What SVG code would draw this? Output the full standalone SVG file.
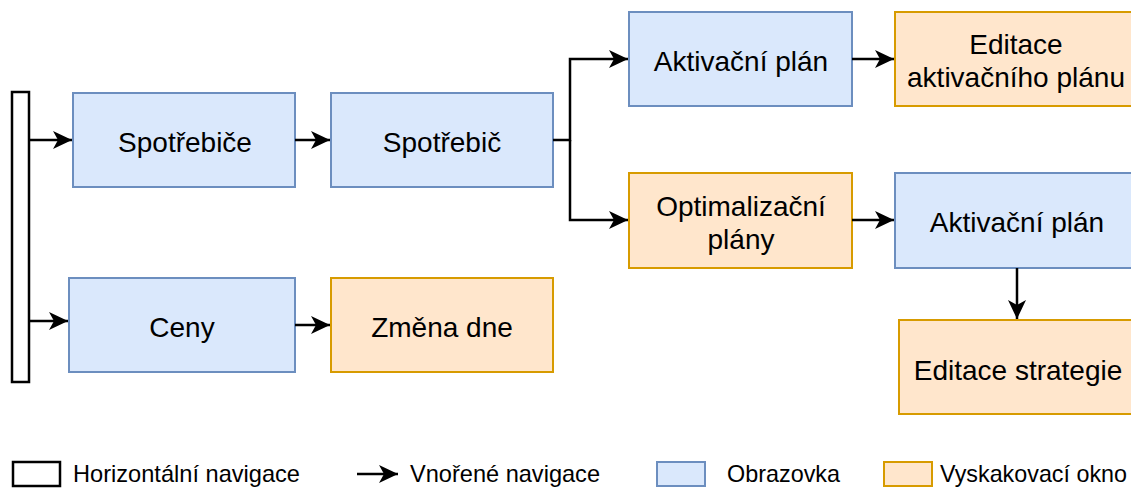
<svg xmlns="http://www.w3.org/2000/svg" width="1131" height="488" viewBox="0 0 1131 488">
<style>
.s{fill:#dae8fc;stroke:#6c8ebf;stroke-width:2}
.p{fill:#ffe6cc;stroke:#d79b00;stroke-width:2}
.h{fill:#ffffff;stroke:#000000;stroke-width:2.5}
text{font-family:"Liberation Sans",Arial,sans-serif;font-size:28px;fill:#000;text-anchor:middle}
.lg{font-size:23.4px;text-anchor:start}
.c{fill:none;stroke:#000;stroke-width:2.5}
</style>
<defs>
<marker id="a" markerWidth="20" markerHeight="20" refX="19" refY="10" orient="auto" markerUnits="userSpaceOnUse">
<path d="M0,1 L19,10 L0,19 L5,10 Z" fill="#000"/>
</marker>
</defs>
<g id="nav"><rect class="h" x="12" y="92" width="17" height="290"/></g>
<g id="spotrebice"><rect class="s" x="73" y="93" width="222" height="94"/><text x="185" y="152">Spotřebiče</text></g>
<g id="spotrebic"><rect class="s" x="331" y="93" width="222" height="94"/><text x="442" y="152">Spotřebič</text></g>
<g id="aktivacni1"><rect class="s" x="629" y="12" width="223" height="94"/><text x="741" y="71">Aktivační plán</text></g>
<g id="editace1"><rect class="p" x="895" y="12" width="242" height="94"/><text x="1016" y="54">Editace</text><text x="1016" y="87">aktivačního plánu</text></g>
<g id="optimalizacni"><rect class="p" x="629" y="173" width="223" height="95"/><text x="741" y="216">Optimalizační</text><text x="741" y="249">plány</text></g>
<g id="aktivacni2"><rect class="s" x="895" y="173" width="242" height="95"/><text x="1017" y="232">Aktivační plán</text></g>
<g id="strategie"><rect class="p" x="899" y="320" width="238" height="94"/><text x="1018" y="380">Editace strategie</text></g>
<g id="ceny"><rect class="s" x="69" y="278" width="226" height="94"/><text x="182" y="337">Ceny</text></g>
<g id="zmena"><rect class="p" x="331" y="278" width="222" height="94"/><text x="442" y="337">Změna dne</text></g>
<g id="connectors">
<path class="c" d="M29,140 L72,140" marker-end="url(#a)"/>
<path class="c" d="M295,140 L330,140" marker-end="url(#a)"/>
<path class="c" d="M553,140 L570,140 L570,59 L628,59" marker-end="url(#a)"/>
<path class="c" d="M570,140 L570,220 L628,220" marker-end="url(#a)"/>
<path class="c" d="M852,59 L894,59" marker-end="url(#a)"/>
<path class="c" d="M852,220 L894,220" marker-end="url(#a)"/>
<path class="c" d="M1017,268 L1017,319" marker-end="url(#a)"/>
<path class="c" d="M29,321 L68,321" marker-end="url(#a)"/>
<path class="c" d="M295,325 L330,325" marker-end="url(#a)"/>
</g>
<g id="legend">
<rect class="h" x="13" y="462" width="47" height="24"/>
<text class="lg" x="73" y="482" textLength="227" lengthAdjust="spacingAndGlyphs">Horizontální navigace</text>
<path class="c" d="M357,474 L398,474" marker-end="url(#a)"/>
<text class="lg" x="410" y="482" textLength="190" lengthAdjust="spacingAndGlyphs">Vnořené navigace</text>
<rect class="s" x="657" y="462" width="48" height="24"/>
<text class="lg" x="727" y="482" textLength="113" lengthAdjust="spacingAndGlyphs">Obrazovka</text>
<rect class="p" x="884" y="462" width="48" height="24"/>
<text class="lg" x="940" y="482" textLength="187" lengthAdjust="spacingAndGlyphs">Vyskakovací okno</text>
</g>
</svg>
